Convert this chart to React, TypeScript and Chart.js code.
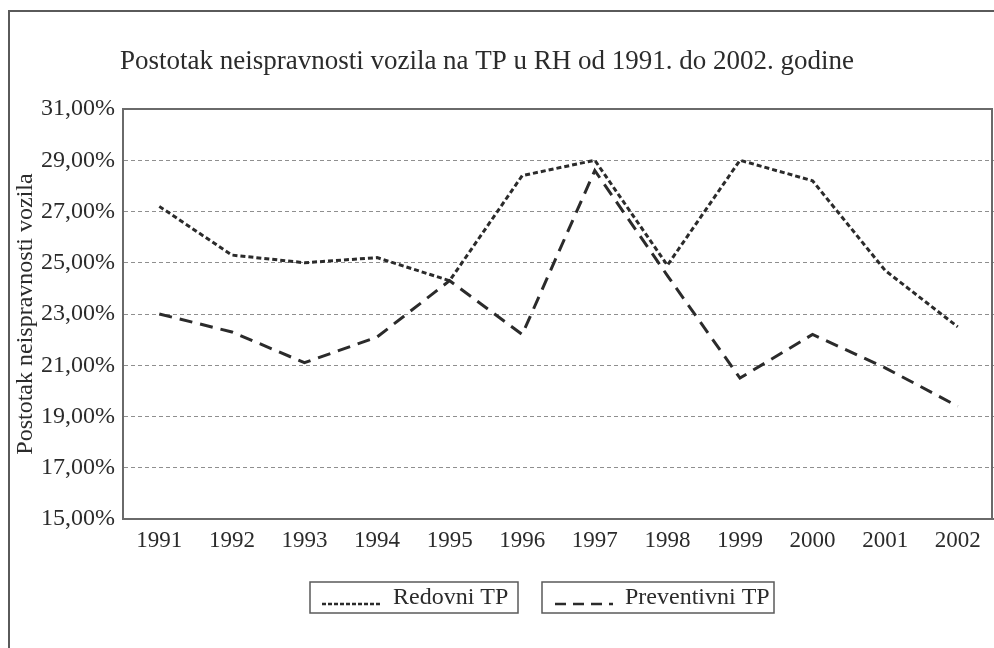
import React, { useEffect, useRef } from "react";
import { Chart, registerables } from "chart.js";

Chart.register(...registerables);

const years = ["1991", "1992", "1993", "1994", "1995", "1996", "1997", "1998", "1999", "2000", "2001", "2002"];
const redovni = [27.2, 25.3, 25.0, 25.2, 24.3, 28.4, 29.0, 24.9, 29.0, 28.2, 24.7, 22.5];
const preventivni = [23.0, 22.3, 21.1, 22.1, 24.3, 22.2, 28.6, 24.5, 20.5, 22.2, 20.9, 19.4];
const seriesNames = ["Redovni TP", "Preventivni TP"];
const titleText = "Postotak neispravnosti vozila na TP u RH od 1991. do 2002. godine";
const yTitle = "Postotak neispravnosti vozila";

const FONT = "'Liberation Serif', 'Times New Roman', serif";
const INK = "#2b2b2b";
const DOT_DASH = [5, 3];
const LONG_DASH = [13, 8];

const decorPlugin = {
  id: "decor",
  beforeDatasetsDraw(chart: any) {
    const { ctx, chartArea } = chart;
    ctx.save();
    ctx.strokeStyle = "#6a6a6a";
    ctx.lineWidth = 2;
    ctx.setLineDash([]);
    ctx.beginPath();
    ctx.moveTo(chartArea.left, chartArea.top);
    ctx.lineTo(chartArea.right - 2, chartArea.top);
    ctx.lineTo(chartArea.right - 2, chartArea.bottom);
    ctx.stroke();
    ctx.restore();
  },
  afterDraw(chart: any) {
    const { ctx } = chart;
    ctx.save();
    // outer frame (right/bottom edges fall outside the picture)
    ctx.strokeStyle = "#5a5a5a";
    ctx.lineWidth = 2;
    ctx.beginPath();
    ctx.moveTo(9, 660);
    ctx.lineTo(9, 11);
    ctx.lineTo(1000, 11);
    ctx.stroke();

    // title
    ctx.fillStyle = INK;
    ctx.font = `27px ${FONT}`;
    ctx.textAlign = "center";
    ctx.textBaseline = "middle";
    ctx.fillText(titleText, 487, 62);

    // legend boxes
    const boxes = [
      { x: 310, w: 208, dash: [4, 2], lineFrom: 322, lineTo: 380, textX: 393 },
      { x: 542, w: 232, dash: [11, 7], lineFrom: 555, lineTo: 613, textX: 625 },
    ];
    boxes.forEach((b, i) => {
      ctx.strokeStyle = "#5a5a5a";
      ctx.lineWidth = 1.5;
      ctx.setLineDash([]);
      ctx.strokeRect(b.x, 582, b.w, 31);
      ctx.strokeStyle = INK;
      ctx.lineWidth = 2.5;
      ctx.setLineDash(b.dash);
      ctx.beginPath();
      ctx.moveTo(b.lineFrom, 604);
      ctx.lineTo(b.lineTo, 604);
      ctx.stroke();
      ctx.setLineDash([]);
      ctx.fillStyle = INK;
      ctx.font = `24px ${FONT}`;
      ctx.textAlign = "left";
      ctx.textBaseline = "middle";
      ctx.fillText(seriesNames[i], b.textX, 598);
    });
    ctx.restore();
  },
};

export default function App() {
  const canvasRef = useRef<HTMLCanvasElement | null>(null);

  useEffect(() => {
    if (!canvasRef.current) return;
    const chart = new Chart(canvasRef.current, {
      type: "line",
      data: {
        labels: years,
        datasets: [
          {
            label: seriesNames[0],
            data: redovni,
            borderColor: INK,
            borderWidth: 3,
            borderDash: DOT_DASH,
            pointRadius: 0,
            tension: 0,
            fill: false,
          },
          {
            label: seriesNames[1],
            data: preventivni,
            borderColor: INK,
            borderWidth: 3,
            borderDash: LONG_DASH,
            pointRadius: 0,
            tension: 0,
            fill: false,
          },
        ],
      },
      options: {
        animation: false,
        responsive: false,
        maintainAspectRatio: false,
        layout: { padding: { left: 0, top: 109, right: 0, bottom: 89 } },
        plugins: {
          legend: { display: false },
          title: { display: false },
          tooltip: { enabled: false },
        },
        scales: {
          x: {
            offset: true,
            grid: { display: false, drawTicks: false },
            border: { display: true, color: "#6a6a6a", width: 2 },
            ticks: {
              color: INK,
              font: { family: FONT, size: 23 },
              padding: 8,
              maxRotation: 0,
              autoSkip: false,
            },
            afterFit(scale: any) {
              scale.height = 40;
            },
          },
          y: {
            min: 15,
            max: 31,
            grid: {
              drawTicks: false,
              color: (c: any) =>
                c.tick && (c.tick.value === 15 || c.tick.value === 31) ? "rgba(0,0,0,0)" : "#8f8f8f",
              lineWidth: 1,
            },
            border: { display: true, color: "#6a6a6a", width: 2, dash: [4, 3] },
            ticks: {
              stepSize: 2,
              color: INK,
              font: { family: FONT, size: 24 },
              padding: 8,
              callback: (v: any) => Number(v).toFixed(2).replace(".", ",") + "%",
            },
            title: {
              display: true,
              text: yTitle,
              color: INK,
              font: { family: FONT, size: 24 },
              padding: { top: 11, bottom: 0 },
            },
            afterFit(scale: any) {
              scale.width = 123;
            },
          },
        },
      },
      plugins: [decorPlugin],
    } as any);
    return () => chart.destroy();
  }, []);

  return (
    <div style={{ position: "fixed", left: 0, top: 0, width: 994, height: 648, overflow: "hidden", background: "#fff" }}>
      <canvas ref={canvasRef} width={994} height={648} style={{ display: "block" }} />
    </div>
  );
}
